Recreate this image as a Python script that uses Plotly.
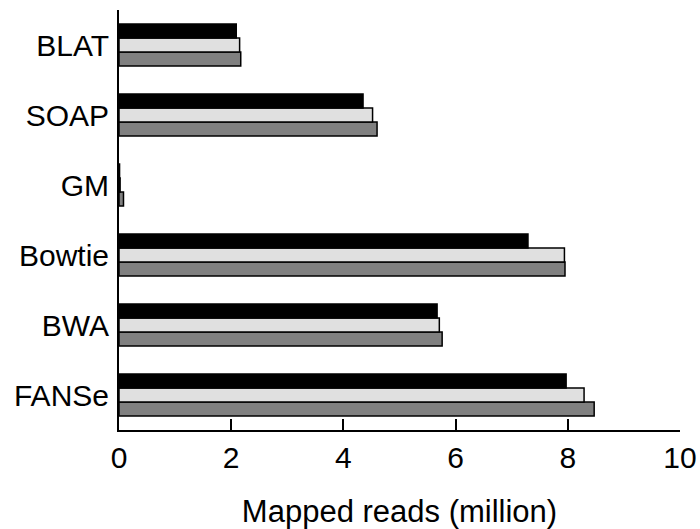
import plotly.graph_objects as go

categories = ["BLAT", "SOAP", "GM", "Bowtie", "BWA", "FANSe"]
series_black = [2.09, 4.35, 0.01, 7.29, 5.67, 7.97]
series_light = [2.15, 4.52, 0.02, 7.94, 5.71, 8.29]
series_gray = [2.17, 4.60, 0.08, 7.95, 5.76, 8.47]
x_ticks = [0, 2, 4, 6, 8, 10]

font = "Liberation Sans, Arial, sans-serif"

fig = go.Figure()
# plotly stacks horizontal grouped bars bottom-up, so add bottom series first
for name, vals, color in [("C", series_gray, "#808080"),
                          ("B", series_light, "#E0E0E0"),
                          ("A", series_black, "#000000")]:
    fig.add_trace(go.Bar(
        y=categories, x=vals, orientation="h", name=name,
        marker=dict(color=color, line=dict(color="#000000", width=1.5)),
    ))

fig.update_layout(
    width=700, height=529,
    margin=dict(l=119, r=20, t=10, b=99),
    barmode="group", bargap=0.4, bargroupgap=0,
    showlegend=False,
    plot_bgcolor="white", paper_bgcolor="white",
    font=dict(family=font, size=30, color="#000000"),
)
fig.update_xaxes(
    range=[0, 10], tickvals=x_ticks, ticktext=[str(t) for t in x_ticks],
    showline=True, linecolor="#000000", linewidth=2,
    ticks="inside", ticklen=11, tickwidth=2, tickcolor="#000000",
    showgrid=False, zeroline=False, automargin=False,
    title=dict(text="Mapped reads (million)", font=dict(size=31), standoff=28),
)
fig.update_yaxes(
    categoryorder="array", categoryarray=categories[::-1],
    range=[-0.5, 5.5], automargin=False,
    showline=True, linecolor="#000000", linewidth=2,
    ticks="", showgrid=False, zeroline=False, ticklabelstandoff=2,
)

fig.write_html("out.html")
